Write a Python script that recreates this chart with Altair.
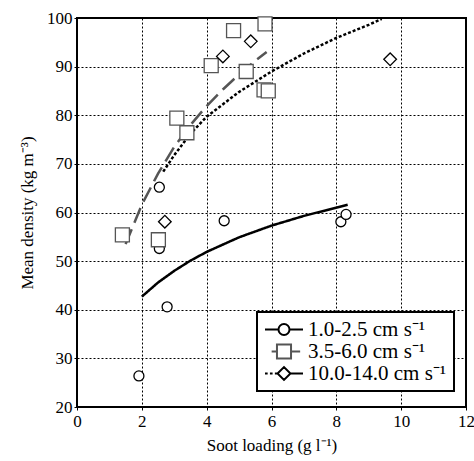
import altair as alt
import pandas as pd

series = ["1.0-2.5 cm s⁻¹", "3.5-6.0 cm s⁻¹", "10.0-14.0 cm s⁻¹"]
colors = ["#000000", "#555555", "#000000"]

# measured points
low_x = [2.54, 4.54, 8.14, 8.30, 2.54, 2.78, 1.91]
low_y = [65.2, 58.3, 58.1, 59.6, 52.6, 40.6, 26.4]
mid_x = [1.40, 2.51, 3.08, 3.39, 4.14, 4.83, 5.22, 5.80, 5.77, 5.90]
mid_y = [55.4, 54.4, 79.4, 76.4, 90.2, 97.4, 89.0, 98.8, 85.2, 85.0]
high_x = [2.71, 4.50, 5.36, 9.66]
high_y = [58.1, 92.1, 95.2, 91.5]

# fitted curves
low_fx = [2.0, 2.5, 3.0, 3.5, 4.0, 5.0, 6.0, 7.0, 8.0, 8.35]
low_fy = [42.7, 45.6, 48.0, 50.1, 51.9, 54.9, 57.3, 59.3, 61.0, 61.6]
mid_fx = [1.5, 2.0, 2.5, 3.0, 3.5, 4.0, 4.5, 5.0, 5.5, 5.85]
mid_fy = [53.5, 61.6, 68.0, 73.5, 78.0, 81.9, 85.3, 88.4, 91.2, 93.0]
high_fx = [2.66, 3.0, 3.5, 4.0, 5.0, 6.0, 7.0, 8.0, 9.0, 9.4]
high_fy = [68.4, 71.8, 76.2, 79.7, 84.8, 89.0, 92.7, 95.9, 98.6, 99.8]

fits = pd.concat([
    pd.DataFrame({"x": low_fx, "y": low_fy, "s": series[0], "o": range(len(low_fx))}),
    pd.DataFrame({"x": mid_fx, "y": mid_fy, "s": series[1], "o": range(len(mid_fx))}),
    pd.DataFrame({"x": high_fx, "y": high_fy, "s": series[2], "o": range(len(high_fx))}),
])
leg = pd.DataFrame({"series": series})

FONT = "Liberation Serif"
xs = alt.Scale(domain=[0, 12], nice=False, zero=False)
ys = alt.Scale(domain=[20, 100], nice=False, zero=False)

xenc = alt.X("x:Q", scale=xs, title="Soot loading (g l⁻¹)",
             axis=alt.Axis(values=[0, 2, 4, 6, 8, 10, 12], labelFlush=False))
yenc = alt.Y("y:Q", scale=ys, title="Mean density (kg m⁻³)",
             axis=alt.Axis(values=[20, 30, 40, 50, 60, 70, 80, 90, 100]))

lines = alt.Chart(fits).mark_line(strokeWidth=2.5, clip=True).encode(
    x=xenc, y=yenc, order="o:Q",
    stroke=alt.Stroke("s:N", scale=alt.Scale(domain=series, range=colors), legend=None),
    strokeDash=alt.StrokeDash("s:N", scale=alt.Scale(domain=series, range=[[1, 0], [16, 7], [3, 2]]), legend=None),
)


def pt_layer(xv, yv, shape, color, size):
    df = pd.DataFrame({"x": xv, "y": yv})
    return alt.Chart(df).mark_point(
        shape=shape, filled=False, stroke=color, strokeWidth=1.3,
        fill="white", fillOpacity=1, opacity=1, size=size
    ).encode(x=xenc, y=yenc)


p_low = pt_layer(low_x, low_y, "circle", colors[0], 100)
p_mid = pt_layer(mid_x, mid_y, "square", colors[1], 196)
p_high = pt_layer(high_x, high_y, "diamond", colors[2], 160)

leg_shapes = [
    "M-1,0L-0.29,0M0.29,0L1,0M0.29,0A0.29,0.29,0,1,1,-0.29,0A0.29,0.29,0,1,1,0.29,0Z",
    "M-0.65,0L-0.37,0M0.37,0L0.85,0M-0.37,-0.37L0.37,-0.37L0.37,0.37L-0.37,0.37Z",
    "M-1,0L-0.86,0M-0.74,0L-0.6,0M-0.48,0L-0.34,0M0.34,0L1,0M-0.34,0L0,-0.34L0.34,0L0,0.34Z",
]

legend = alt.Legend(
    title=None, orient="none", legendX=180, legendY=294,
    strokeColor="black", fillColor="white", padding=7,
    symbolSize=1444, symbolStrokeWidth=2, symbolFillColor="white", symbolOpacity=1,
    labelFont=FONT, labelFontSize=21, labelColor="black", labelOffset=4,
    rowPadding=0, clipHeight=21,
)

legend_layer = alt.Chart(leg).mark_point(filled=False, opacity=0).encode(
    x=alt.value(-100), y=alt.value(-100),
    shape=alt.Shape("series:N", scale=alt.Scale(domain=series, range=leg_shapes), legend=legend),
    color=alt.Color("series:N", scale=alt.Scale(domain=series, range=colors), legend=legend),
)

chart = alt.layer(lines, p_low, p_mid, p_high, legend_layer).resolve_scale(
    shape="independent", color="independent", stroke="independent", strokeDash="independent"
).properties(
    width=389, height=389,
    background="white",
    autosize=alt.AutoSizeParams(type="none"),
    padding={"left": 77, "top": 18, "right": 8, "bottom": 54},
).configure_view(
    stroke="black", strokeWidth=2
).configure_legend(
    strokeWidth=2
).configure_axis(
    grid=True, gridColor="black", gridDash=[2, 2], gridWidth=1, gridOpacity=1,
    domain=False, ticks=True, tickSize=3, tickColor="black",
    labelFont=FONT, labelFontSize=17, labelColor="black",
    titleFont=FONT, titleFontSize=17, titleFontWeight="normal", titleColor="black",
).configure_axisX(
    labelPadding=3, titlePadding=8
).configure_axisY(
    labelPadding=2, titlePadding=10
)

chart.save("out.html", embed_options={"renderer": "svg", "actions": False})
